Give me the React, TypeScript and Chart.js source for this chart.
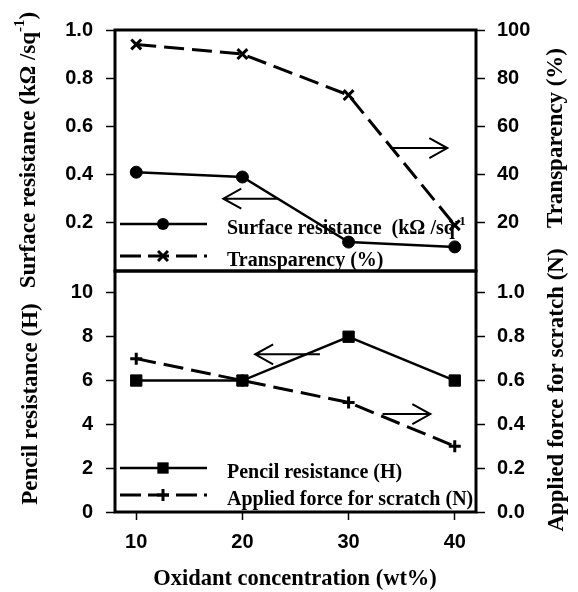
import { useEffect, useRef } from "react";
import { Chart, registerables } from "chart.js";

Chart.register(...registerables);

// Oxidant concentration (wt%) on the shared x axis
const oxidant = [10, 20, 30, 40];
// Upper panel series
const surfaceResistance = [0.41, 0.39, 0.12, 0.1];
const transparency = [94, 90, 73, 19];
// Lower panel series
const pencilResistance = [6, 6, 8, 6];
const scratchForce = [0.7, 0.6, 0.5, 0.3];

// Tick values
const oxidantTicks = [10, 20, 30, 40];
const resistanceTicks = [0.2, 0.4, 0.6, 0.8, 1.0];
const transparencyTicks = [20, 40, 60, 80, 100];
const pencilTicks = [0, 2, 4, 6, 8, 10];
const forceTicks = [0, 0.2, 0.4, 0.6, 0.8, 1.0];

// Direction arrows pointing to the axis each curve belongs to (data units)
const upperArrows = [
  { axis: "yl", from: 23.3, to: 18.2, at: 0.3 },
  { axis: "yr", from: 33.9, to: 39.3, at: 51 },
];
const lowerArrows = [
  { axis: "yl", from: 27.3, to: 21.2, at: 7.2 },
  { axis: "yr", from: 33.2, to: 37.7, at: 0.447 },
];

const W = 578;
const H = 592;
const PLOT_LEFT = 115;
const PLOT_RIGHT = 476;
const TOP_Y = 30;
const MID_Y = 271;
const BOTTOM_Y = 512;
const AXIS_W = 60;
const X_AXIS_H = 50;

const SANS = "'Liberation Sans', Arial, sans-serif";
const SERIF = "'Liberation Serif', 'Times New Roman', serif";
const tickFont = { family: SANS, size: 20, weight: "bold" as const };
const DASH = [20, 8];

type Piece = { text: string; sup?: boolean };

function drawPieces(ctx: CanvasRenderingContext2D, pieces: Piece[], x: number, y: number, size: number, align: "left" | "center") {
  const mainFont = `bold ${size}px ${SERIF}`;
  const supFont = `bold ${Math.round(size * 0.65)}px ${SERIF}`;
  let total = 0;
  for (const p of pieces) {
    ctx.font = p.sup ? supFont : mainFont;
    total += ctx.measureText(p.text).width;
  }
  let cx = align === "center" ? x - total / 2 : x;
  ctx.textAlign = "left";
  ctx.textBaseline = "middle";
  ctx.fillStyle = "#000";
  for (const p of pieces) {
    ctx.font = p.sup ? supFont : mainFont;
    ctx.fillText(p.text, cx, p.sup ? y - size * 0.38 : y);
    cx += ctx.measureText(p.text).width;
  }
}

function drawMarker(ctx: CanvasRenderingContext2D, style: string, x: number, y: number, r: number) {
  ctx.save();
  ctx.setLineDash([]);
  ctx.fillStyle = "#000";
  ctx.strokeStyle = "#000";
  ctx.lineWidth = 3;
  ctx.beginPath();
  if (style === "circle") {
    ctx.arc(x, y, r, 0, Math.PI * 2);
    ctx.fill();
  } else if (style === "rect") {
    const s = r * Math.SQRT1_2;
    ctx.fillRect(x - s, y - s, 2 * s, 2 * s);
  } else if (style === "crossRot") {
    const d = r * Math.SQRT1_2;
    ctx.moveTo(x - d, y - d);
    ctx.lineTo(x + d, y + d);
    ctx.moveTo(x + d, y - d);
    ctx.lineTo(x - d, y + d);
    ctx.stroke();
  } else {
    ctx.moveTo(x - r, y);
    ctx.lineTo(x + r, y);
    ctx.moveTo(x, y - r);
    ctx.lineTo(x, y + r);
    ctx.stroke();
  }
  ctx.restore();
}

type LegendRow = { pieces: Piece[]; dashed: boolean; marker: string; radius: number; offset: number };
type Title = { pieces: Piece[]; x: number; y: number; rotate: boolean; size: number };
type Arrow = { axis: string; from: number; to: number; at: number };

function panelDecor(legend: LegendRow[], titles: Title[], arrows: Arrow[]) {
  return {
    id: "panelDecor",
    beforeDatasetsDraw(chart: any) {
      const { ctx, chartArea: a } = chart;
      ctx.save();
      ctx.strokeStyle = "#000";
      ctx.lineWidth = 3;
      ctx.strokeRect(a.left, a.top, a.right - a.left, a.bottom - a.top);
      for (const row of legend) {
        const y = a.bottom - row.offset;
        ctx.save();
        ctx.lineWidth = row.dashed ? 3 : 2.5;
        ctx.setLineDash(row.dashed ? [21, 7] : []);
        ctx.beginPath();
        ctx.moveTo(a.left + 5, y);
        ctx.lineTo(a.left + 92, y);
        ctx.stroke();
        ctx.restore();
        drawMarker(ctx, row.marker, a.left + 48, y, row.radius);
        drawPieces(ctx, row.pieces, a.left + 112, y + 5, 20, "left");
      }
      ctx.restore();
    },
    afterDatasetsDraw(chart: any) {
      const { ctx } = chart;
      const xs = chart.scales.x;
      ctx.save();
      ctx.strokeStyle = "#000";
      ctx.lineWidth = 2;
      ctx.setLineDash([]);
      for (const ar of arrows) {
        const ys = chart.scales[ar.axis];
        const x0 = xs.getPixelForValue(ar.from);
        const x1 = xs.getPixelForValue(ar.to);
        const y = ys.getPixelForValue(ar.at);
        const dir = x1 > x0 ? 1 : -1;
        ctx.beginPath();
        ctx.moveTo(x0, y);
        ctx.lineTo(x1, y);
        ctx.moveTo(x1 - dir * 18, y - 10);
        ctx.lineTo(x1, y);
        ctx.lineTo(x1 - dir * 18, y + 10);
        ctx.stroke();
      }
      ctx.restore();
    },
    afterDraw(chart: any) {
      const { ctx } = chart;
      for (const t of titles) {
        ctx.save();
        ctx.translate(t.x, t.y);
        if (t.rotate) ctx.rotate(-Math.PI / 2);
        drawPieces(ctx, t.pieces, 0, 0, t.size, "center");
        ctx.restore();
      }
    },
  };
}

function yAxis(position: "left" | "right", min: number, max: number, values: number[], digits: number, padding: number) {
  return {
    type: "linear" as const,
    position,
    min,
    max,
    afterBuildTicks: (s: any) => {
      s.ticks = values.map((v) => ({ value: v }));
    },
    afterFit: (s: any) => {
      s.width = AXIS_W;
    },
    border: { display: false },
    grid: { drawOnChartArea: false, drawTicks: true, tickLength: 9, tickWidth: 1.5, tickColor: "#000" },
    ticks: {
      color: "#000",
      font: tickFont,
      padding,
      autoSkip: false,
      callback: (v: any) => Number(v).toFixed(digits),
    },
  };
}

function points(ys: number[]) {
  return oxidant.map((x, i) => ({ x, y: ys[i] }));
}

function series(label: string, ys: number[], axis: string, dashed: boolean, style: string, radius: number) {
  return {
    label,
    data: points(ys),
    yAxisID: axis,
    borderColor: "#000",
    backgroundColor: "#000",
    borderWidth: dashed ? 3 : 2.5,
    borderDash: dashed ? DASH : [],
    pointStyle: style,
    pointRadius: radius,
    pointBorderWidth: style === "cross" || style === "crossRot" ? 3 : 1,
    pointBackgroundColor: "#000",
    pointBorderColor: "#000",
    tension: 0,
  };
}

export default function App() {
  const topRef = useRef<HTMLCanvasElement>(null);
  const bottomRef = useRef<HTMLCanvasElement>(null);

  useEffect(() => {
    const common = {
      animation: false as const,
      responsive: false,
      devicePixelRatio: 1,
      plugins: { legend: { display: false }, tooltip: { enabled: false } },
      events: [] as any[],
    };

    const upper = new Chart(topRef.current!, {
      type: "line",
      data: {
        datasets: [
          series("Surface resistance", surfaceResistance, "yl", false, "circle", 6),
          series("Transparency (%)", transparency, "yr", true, "crossRot", 7),
        ] as any,
      },
      options: {
        ...common,
        layout: {
          padding: { left: PLOT_LEFT - AXIS_W, right: W - PLOT_RIGHT - AXIS_W, top: TOP_Y, bottom: H - MID_Y },
        },
        scales: {
          x: { type: "linear", min: 8, max: 42, display: false },
          yl: yAxis("left", 0, 1.0, resistanceTicks, 1, 13),
          yr: yAxis("right", 0, 100, transparencyTicks, 0, 12),
        } as any,
      },
      plugins: [
        panelDecor(
          [
            {
              pieces: [{ text: "Surface resistance  (k\u03a9 /sq" }, { text: "-1", sup: true }],
              dashed: false,
              marker: "circle",
              radius: 6,
              offset: 47,
            },
            { pieces: [{ text: "Transparency (%)" }], dashed: true, marker: "crossRot", radius: 7, offset: 15 },
          ],
          [
            {
              pieces: [{ text: "Surface resistance (k\u03a9 /sq" }, { text: "-1", sup: true }, { text: ")" }],
              x: 29,
              y: 150,
              rotate: true,
              size: 23,
            },
            { pieces: [{ text: "Transparency (%)" }], x: 556, y: 138, rotate: true, size: 23 },
          ],
          upperArrows
        ),
      ],
    });

    const lower = new Chart(bottomRef.current!, {
      type: "line",
      data: {
        datasets: [
          series("Pencil resistance (H)", pencilResistance, "yl", false, "rect", 8),
          series("Applied force for scratch (N)", scratchForce, "yr", true, "cross", 6),
        ] as any,
      },
      options: {
        ...common,
        layout: {
          padding: {
            left: PLOT_LEFT - AXIS_W,
            right: W - PLOT_RIGHT - AXIS_W,
            top: MID_Y,
            bottom: H - BOTTOM_Y - X_AXIS_H,
          },
        },
        scales: {
          x: {
            type: "linear",
            min: 8,
            max: 42,
            afterBuildTicks: (s: any) => {
              s.ticks = oxidantTicks.map((v) => ({ value: v }));
            },
            afterFit: (s: any) => {
              s.height = X_AXIS_H;
            },
            border: { display: false },
            grid: { drawOnChartArea: false, drawTicks: true, tickLength: 8, tickWidth: 1.5, tickColor: "#000" },
            ticks: { color: "#000", font: tickFont, padding: 10, autoSkip: false, maxRotation: 0, callback: (v: any) => String(v) },
          },
          yl: yAxis("left", 0, 11, pencilTicks, 0, 13),
          yr: yAxis("right", 0, 1.1, forceTicks, 1, 12),
        } as any,
      },
      plugins: [
        panelDecor(
          [
            { pieces: [{ text: "Pencil resistance (H)" }], dashed: false, marker: "rect", radius: 8, offset: 44 },
            { pieces: [{ text: "Applied force for scratch (N)" }], dashed: true, marker: "cross", radius: 6, offset: 17 },
          ],
          [
            { pieces: [{ text: "Pencil resistance (H)" }], x: 31, y: 404, rotate: true, size: 23 },
            { pieces: [{ text: "Applied force for scratch (N)" }], x: 557, y: 390, rotate: true, size: 23 },
            { pieces: [{ text: "Oxidant concentration (wt%)" }], x: 295, y: 579, rotate: false, size: 22.5 },
          ],
          lowerArrows
        ),
      ],
    });

    return () => {
      upper.destroy();
      lower.destroy();
    };
  }, []);

  return (
    <div style={{ position: "fixed", left: 0, top: 0, width: W, height: H, background: "#fff" }}>
      <canvas ref={topRef} width={W} height={H} style={{ position: "absolute", left: 0, top: 0 }} />
      <canvas ref={bottomRef} width={W} height={H} style={{ position: "absolute", left: 0, top: 0 }} />
    </div>
  );
}
